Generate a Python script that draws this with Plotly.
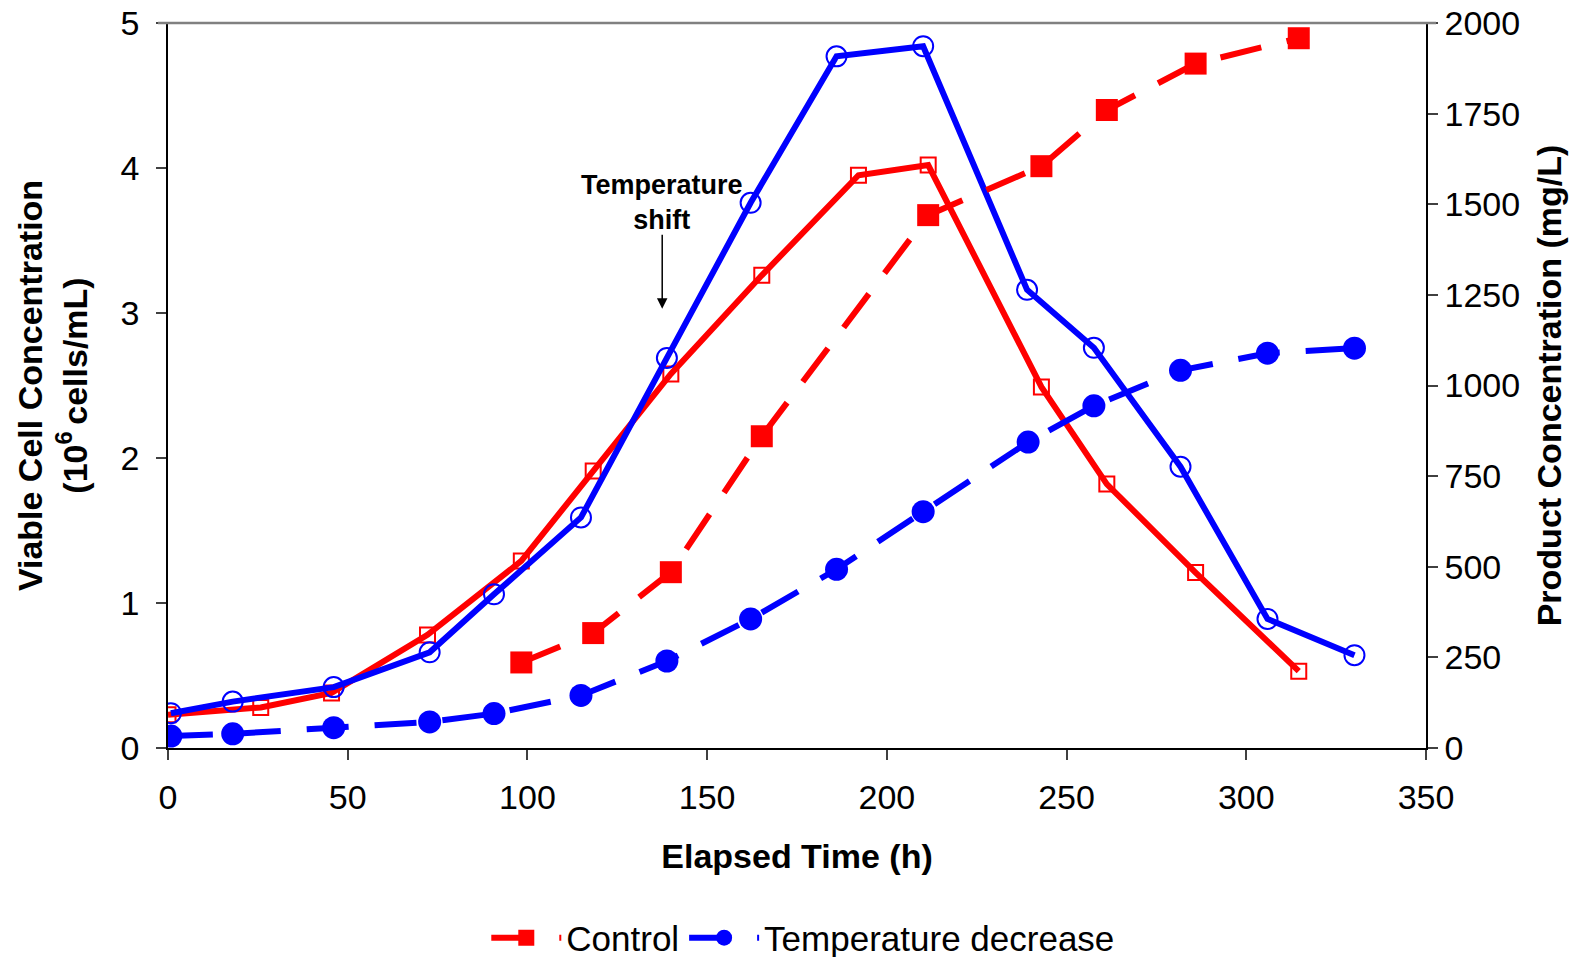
import plotly.graph_objects as go

# Viable cell concentration (10^6 cells/mL) - left axis
ctrl_vc_t = [0, 25.8, 45.5, 72.2, 98.3, 118.3, 139.9, 165.2, 192.1, 211.5, 243.0, 261.2, 285.9, 314.6]
ctrl_vc = [0.23, 0.28, 0.38, 0.78, 1.29, 1.91, 2.58, 3.26, 3.95, 4.02, 2.49, 1.82, 1.21, 0.53]

temp_vc_t = [0.8, 18.0, 46.1, 72.8, 90.7, 114.9, 138.8, 162.1, 186.0, 210.1, 239.0, 257.6, 281.7, 305.9, 330.1]
temp_vc = [0.24, 0.32, 0.42, 0.66, 1.06, 1.59, 2.69, 3.76, 4.77, 4.84, 3.16, 2.76, 1.94, 0.89, 0.64]

# Product concentration (mg/L) - right axis
ctrl_p_t = [98.3, 118.3, 139.9, 165.2, 211.5, 243.0, 261.2, 285.9, 314.6]
ctrl_p = [236, 317, 485, 860, 1470, 1605, 1760, 1888, 1958]

temp_p_t = [0.8, 18.0, 46.1, 72.8, 90.7, 114.9, 138.8, 162.1, 186.0, 210.1, 239.3, 257.6, 281.7, 305.9, 330.1]
temp_p = [33, 39, 56, 72, 95, 145, 240, 356, 493, 652, 844, 944, 1042, 1089, 1103]

x_ticks = [0, 50, 100, 150, 200, 250, 300, 350]

RED = "#FF0000"
BLUE = "#0000FF"
FONT = "Arial, Liberation Sans, sans-serif"
DASH = "42px,26px"

fig = go.Figure()

fig.add_trace(go.Scatter(
    x=ctrl_vc_t, y=ctrl_vc, mode="lines+markers", showlegend=False,
    line=dict(color=RED, width=6),
    marker=dict(symbol="square-open", size=15, color=RED, line=dict(width=2, color=RED)),
))
fig.add_trace(go.Scatter(
    x=temp_vc_t, y=temp_vc, mode="lines+markers", showlegend=False,
    line=dict(color=BLUE, width=6),
    marker=dict(symbol="circle-open", size=20, color=BLUE, line=dict(width=2, color=BLUE)),
))
fig.add_trace(go.Scatter(
    x=ctrl_p_t, y=ctrl_p, mode="lines+markers", name="Control", yaxis="y2",
    line=dict(color=RED, width=6, dash=DASH),
    marker=dict(symbol="square", size=22, color=RED),
))
fig.add_trace(go.Scatter(
    x=temp_p_t, y=temp_p, mode="lines+markers", name="Temperature decrease", yaxis="y2",
    line=dict(color=BLUE, width=6, dash=DASH),
    marker=dict(symbol="circle", size=23, color=BLUE),
))

tickfont = dict(family=FONT, size=34, color="black")
titlefont = dict(family=FONT, size=34, color="black", weight="bold")

fig.update_layout(
    width=1583, height=957,
    margin=dict(l=168, r=157, t=23, b=209, autoexpand=False),
    paper_bgcolor="white", plot_bgcolor="white",
    font=dict(family=FONT, color="black"),
    xaxis=dict(
        range=[0, 350], tickvals=x_ticks, ticks="outside", ticklen=10, tickwidth=1.5,
        tickcolor="#404040", showline=True, linecolor="black", linewidth=1.5,
        showgrid=False, zeroline=False, tickfont=tickfont, ticklabelstandoff=8,
        ticklabeloverflow="allow",
        title=dict(text="<b>Elapsed Time (h)</b>", font=titlefont, standoff=30),
    ),
    yaxis=dict(
        range=[0, 5], dtick=1, ticks="outside", ticklen=10, tickwidth=1.5,
        tickcolor="#404040", showline=True, linecolor="black", linewidth=1.5,
        showgrid=False, zeroline=False, tickfont=tickfont, ticklabelstandoff=10,
        ticklabeloverflow="allow",
        title=dict(text="<b>Viable Cell Concentration<br>(10<sup>6 </sup>cells/mL)</b>",
                   font=titlefont, standoff=23),
    ),
    yaxis2=dict(
        range=[0, 2000], dtick=250, overlaying="y", side="right", ticks="outside",
        ticklen=10, tickwidth=1.5, tickcolor="#404040", showline=True,
        linecolor="black", linewidth=1.5, showgrid=False, zeroline=False,
        tickfont=tickfont, ticklabeloverflow="allow",
        title=dict(text="<b>Product Concentration (mg/L)</b>", font=titlefont, standoff=18),
    ),
    legend=dict(
        orientation="h", x=0.505, xanchor="center", y=-0.262, yanchor="middle",
        font=dict(family=FONT, size=35, color="black"), bgcolor="rgba(0,0,0,0)",
        itemwidth=70,
    ),
    shapes=[dict(type="line", xref="paper", yref="paper", x0=-0.008, x1=1.008,
                 y0=1, y1=1, line=dict(color="#808080", width=2.5))],
    annotations=[
        dict(x=137.5, y=3.03, ax=137.5, ay=3.55, xref="x", yref="y", axref="x", ayref="y",
             text="", showarrow=True, arrowhead=2, arrowsize=1.4, arrowwidth=1.5,
             arrowcolor="black"),
        dict(x=137.3, y=3.76, xref="x", yref="y", showarrow=False,
             text="<b>Temperature<br>shift</b>",
             font=dict(family=FONT, size=27, color="black")),
    ],
)

fig.write_html(
    "out.html",
    config={"displayModeBar": False},
    post_script="document.body.style.margin='0px';document.body.style.overflow='hidden';",
)
